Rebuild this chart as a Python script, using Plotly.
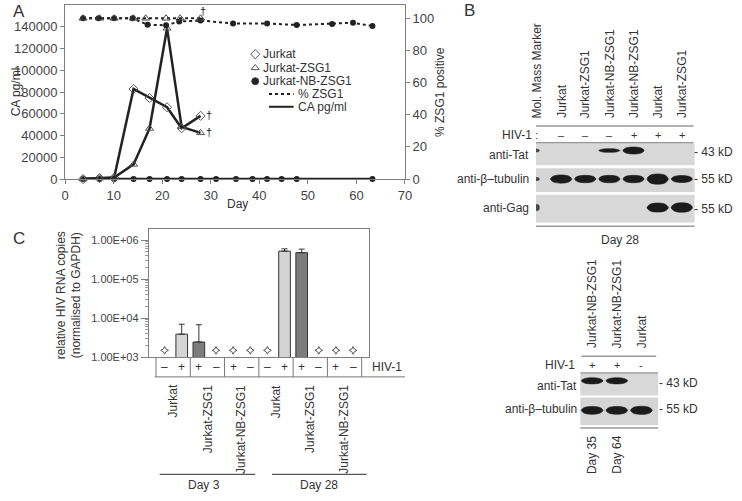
import plotly.graph_objects as go

W, H = 742, 501
FONT = "Liberation Sans, Arial, Helvetica, sans-serif"
INK = "#333333"
AXIS = "#808080"

# ---------------- Panel A data ----------------
days_ca = [3.7, 7.1, 10.1, 14.1, 17.4, 21.0, 24.0, 27.9]
ca_jurkat = [0, 900, 1200, 82800, 74400, 66000, 46700, 58100]
ca_jurkat_zsg1 = [0, 900, 1500, 13500, 46500, 138500, 48000, 42500]
days_ca_nb = [3.7, 7.1, 10.1, 14.1, 17.4, 21.0, 24.0, 27.9, 31.1, 35.2, 38.6, 41.6, 44.6, 47.7, 63.3]
ca_jurkat_nb = [0, 0, 0, 0, 0, 0, 0, 0, 0, 0, 0, 0, 0, 0, 0]
days_pct_zsg1 = [3.7, 7.1, 10.1, 14.1, 16.6, 20.8, 23.7, 27.9]
pct_jurkat_zsg1 = [100, 100, 100, 100, 100, 100, 100, 100]
days_pct_nb = [3.7, 6.9, 10.1, 13.9, 17.0, 20.8, 23.5, 27.9, 34.6, 41.6, 47.7, 55.0, 59.3, 63.3]
pct_jurkat_nb = [100, 100, 100, 100, 96.0, 95.6, 98.0, 98.6, 96.8, 96.8, 95.8, 96.4, 97.2, 95.2]
day_ticks = [0, 10, 20, 30, 40, 50, 60, 70]
ca_ticks = [0, 20000, 40000, 60000, 80000, 100000, 120000, 140000]
pct_ticks = [0, 20, 40, 60, 80, 100]
legend_names = ["Jurkat", "Jurkat-ZSG1", "Jurkat-NB-ZSG1", "% ZSG1", "CA pg/ml"]

# ---------------- Panel B data (western blot, day 28) ----------------
lanes_b = ["Mol. Mass Marker", "Jurkat", "Jurkat-ZSG1", "Jurkat-NB-ZSG1",
           "Jurkat-NB-ZSG1", "Jurkat", "Jurkat-ZSG1"]
hiv_b = [":", "–", "–", "–", "+", "+", "+"]
rows_b = ["anti-Tat", "anti-β–tubulin", "anti-Gag"]
mass_b = ["43 kD", "55 kD", "55 kD"]
tat_b = [0.35, 0, 0, 0.4, 0.8, 0, 0]
tubulin_b = [0.4, 0.95, 0.85, 0.85, 0.85, 1.2, 0.8]
gag_b = [0.8, 0, 0, 0, 0, 1.05, 1.1]

# ---------------- Panel B lower blot ----------------
lanes_b2 = ["Jurkat-NB-ZSG1", "Jurkat-NB-ZSG1", "Jurkat"]
hiv_b2 = ["+", "+", "-"]
rows_b2 = ["anti-Tat", "anti-β–tubulin"]
mass_b2 = ["43 kD", "55 kD"]
tat_b2 = [0.7, 0.7, 0]
tubulin_b2 = [0.9, 0.9, 0.95]
days_b2 = ["Day 35", "Day 64", ""]

# ---------------- Panel C data ----------------
rna_lines = ["Jurkat", "Jurkat", "Jurkat-ZSG1", "Jurkat-ZSG1", "Jurkat-NB-ZSG1", "Jurkat-NB-ZSG1",
             "Jurkat", "Jurkat", "Jurkat-ZSG1", "Jurkat-ZSG1", "Jurkat-NB-ZSG1", "Jurkat-NB-ZSG1"]
rna_hiv = ["–", "+", "+", "–", "+", "–", "–", "+", "+", "–", "+", "–"]
rna_values = [None, 3900, 2450, None, None, None, None, 525000, 480000, None, None, None]
rna_err = [0, 3100, 4350, 0, 0, 0, 0, 75000, 110000, 0, 0, 0]
rna_nd_level = 1500
rna_ticks = [1e3, 1e4, 1e5, 1e6]
rna_ticktext = ["1.00E+03", "1.00E+04", "1.00E+05", "1.00E+06"]
rna_days = ["Day 3", "Day 28"]

BAR_COL = {"Jurkat": "#d4d4d4", "Jurkat-ZSG1": "#7c7c7c", "Jurkat-NB-ZSG1": "#444444"}


def px(x):
    return x / W


def py(y):
    return 1 - y / H


fig = go.Figure()
annotations = []
shapes = []


def txt(x, y, s, size=12, xa="center", ya="middle", angle=0, xref="paper", yref="paper",
        color=INK, xshift=0, yshift=0):
    annotations.append(dict(
        x=px(x) if xref == "paper" else x,
        y=py(y) if yref == "paper" else y,
        text=s, showarrow=False, xref=xref, yref=yref, xanchor=xa, yanchor=ya,
        textangle=angle, xshift=xshift, yshift=yshift, borderpad=0,
        font=dict(family=FONT, size=size, color=color)))


def hline(x0, x1, y, color="#9a9a9a", width=1.5):
    shapes.append(dict(type="line", xref="paper", yref="paper", x0=px(x0), x1=px(x1),
                       y0=py(y), y1=py(y), line=dict(color=color, width=width)))


def rect(x0, x1, y0, y1, fill):
    shapes.append(dict(type="rect", xref="paper", yref="paper", layer="below",
                       x0=px(x0), x1=px(x1), y0=py(y1), y1=py(y0),
                       fillcolor=fill, line=dict(width=0)))


def band(lane, row, v, xa, ya, half_len, row_px, color="#1b1b1b"):
    """Lens-shaped blot band; thickness scales with intensity v."""
    h = 3.5 * v / row_px
    a = half_len
    xs = [lane - a, lane - 0.65 * a, lane + 0.65 * a, lane + a, lane + 0.65 * a, lane - 0.65 * a, lane - a]
    ys = [row, row - h, row - h, row, row + h, row + h, row]
    fig.add_trace(go.Scatter(x=xs, y=ys, xaxis=xa, yaxis=ya, mode="lines", fill="toself",
                             fillcolor=color, line=dict(color=color, width=0.6, shape="spline"),
                             showlegend=False, hoverinfo="skip"))


# ================= Panel A =================
fig.add_trace(go.Scatter(x=days_pct_nb, y=pct_jurkat_nb, xaxis="x", yaxis="y2", mode="lines+markers",
                         line=dict(color="#222", width=2, dash="dot"),
                         marker=dict(symbol="circle", size=6, color="#222"), showlegend=False))
fig.add_trace(go.Scatter(x=days_pct_zsg1, y=pct_jurkat_zsg1, xaxis="x", yaxis="y2", mode="lines+markers",
                         line=dict(color="#222", width=2, dash="dot"),
                         marker=dict(symbol="triangle-up-open", size=7, color="#444", line=dict(width=1)),
                         showlegend=False))
fig.add_trace(go.Scatter(x=days_ca_nb, y=ca_jurkat_nb, xaxis="x", yaxis="y", mode="lines+markers",
                         line=dict(color="#222", width=2.5),
                         marker=dict(symbol="circle", size=6, color="#222"), showlegend=False, cliponaxis=False))
fig.add_trace(go.Scatter(x=days_ca, y=ca_jurkat, xaxis="x", yaxis="y", mode="lines+markers",
                         line=dict(color="#222", width=2.5),
                         marker=dict(symbol="diamond-open", size=7, color="#555", line=dict(width=1)),
                         showlegend=False, cliponaxis=False))
fig.add_trace(go.Scatter(x=days_ca, y=ca_jurkat_zsg1, xaxis="x", yaxis="y", mode="lines+markers",
                         line=dict(color="#222", width=2.5),
                         marker=dict(symbol="triangle-up-open", size=7, color="#555", line=dict(width=1)),
                         showlegend=False, cliponaxis=False))

# daggers on the last sampled points
for xs, ys, yref in [(days_pct_zsg1, pct_jurkat_zsg1, "y2"), (days_ca, ca_jurkat, "y"),
                     (days_ca, ca_jurkat_zsg1, "y")]:
    dx, dy = (2, 7) if yref == "y2" else (8, 1)
    txt(xs[-1], ys[-1], "†", size=11, xref="x", yref=yref, xshift=dx, yshift=dy, color="#222")

# manual legend (glyphs on a pixel canvas axis)
leg_rows = [55, 69, 82.5, 95.5, 108.5]
leg_syms = [("diamond-open", 7, "#555"), ("triangle-up-open", 7, "#555"), ("circle", 7, "#222")]
for i, (sym, sz, col) in enumerate(leg_syms):
    fig.add_trace(go.Scatter(x=[255], y=[leg_rows[i]], xaxis="x9", yaxis="y9", mode="markers",
                             marker=dict(symbol=sym, size=sz, color=col, line=dict(width=1)),
                             showlegend=False, hoverinfo="skip"))
    txt(262, leg_rows[i], legend_names[i], size=12, xa="left")
for j, dash in enumerate(["dot", "solid"]):
    r = leg_rows[3 + j]
    fig.add_trace(go.Scatter(x=[269, 294], y=[r, r], xaxis="x9", yaxis="y9", mode="lines",
                             line=dict(color="#222", width=2, dash=dash), showlegend=False, hoverinfo="skip"))
    txt(297, r, legend_names[3 + j], size=12, xa="left")

txt(8, 12, "A", size=17, xa="left")
txt(12, 93, "CA pg/ml", size=12, angle=-90)
txt(442, 93, "% ZSG1 positive", size=12, angle=-90)
txt(237, 207, "Day", size=12)

# ================= Panel B (upper blot) =================
rect(540, 701, 146, 168, "#d8d8d8")
rect(540, 701, 171, 195, "#d5d5d5")
rect(540, 701, 198, 226, "#d8d8d8")
hline(540, 700, 128)
hline(540, 700, 145)
hline(540, 701, 230)

for r, vals in enumerate([tat_b, tubulin_b, gag_b]):
    for lane, v in enumerate(vals):
        if v > 0:
            band(lane, r, v, "x4", "y4", 0.1 if lane == 0 else 0.44, 29,
                 color="#4a4a4a" if lane == 0 else "#1b1b1b")

for lane, (name, sign) in enumerate(zip(lanes_b, hiv_b)):
    txt(lane, 121, name, size=12, angle=-90, ya="bottom", xref="x4")
    txt(lane, 137, sign, size=11, xref="x4")
txt(537, 137, "HIV-1", size=12, xa="right")
for r, row in enumerate(rows_b):
    txt(534, [158, 182, 211][r], row, size=12, xa="right")
    txt(699, [154, 182, 212][r], "- " + mass_b[r], size=12, xa="left")
txt(625, 244, "Day 28", size=12)
txt(472, 11, "B", size=17)

# ================= Panel B (lower blot) =================
rect(585, 664, 380, 402, "#d8d8d8")
rect(585, 664, 404, 432, "#d5d5d5")
hline(586, 662, 362)
hline(585, 664, 379)
hline(585, 664, 435)
for r, vals in enumerate([tat_b2, tubulin_b2]):
    for lane, v in enumerate(vals):
        if v > 0:
            band(lane, r, v, "x6", "y6", 0.44, 30)
for lane, (name, sign, d) in enumerate(zip(lanes_b2, hiv_b2, days_b2)):
    txt(lane, 355, name, size=12, angle=-90, ya="bottom", xref="x6")
    txt(lane, 371, sign, size=11, xref="x6")
    if d:
        txt(lane, 442, d, size=12, angle=-90, ya="top", xref="x6")
txt(581, 371, "HIV-1", size=12, xa="right")
for r, row in enumerate(rows_b2):
    txt(583, [392, 416][r], row, size=12, xa="right")
    txt(664, [389, 416][r], "- " + mass_b2[r], size=12, xa="left")

# ================= Panel C =================
idx = list(range(len(rna_values)))
fig.add_trace(go.Bar(x=idx, y=rna_values, xaxis="x3", yaxis="y3", width=0.68,
                     marker=dict(color=[BAR_COL[c] for c in rna_lines], line=dict(color="#333", width=1)),
                     error_y=dict(type="data", symmetric=False, array=rna_err, arrayminus=[0] * len(rna_err),
                                  color="#333", thickness=1, width=3),
                     showlegend=False))
nd_x = [i for i, v in enumerate(rna_values) if v is None]
fig.add_trace(go.Scatter(x=nd_x, y=[rna_nd_level] * len(nd_x), xaxis="x3", yaxis="y3", mode="markers",
                         marker=dict(symbol="star-diamond-open", size=5.5, color="#555", line=dict(width=1)),
                         showlegend=False))

for i, s in enumerate(rna_hiv):
    txt(i, 373, s, size=12, xref="x3")
for k in range(len(rna_lines) // 2 + 1):
    shapes.append(dict(type="line", xref="x3", yref="paper", x0=2 * k - 0.5, x1=2 * k - 0.5,
                       y0=py(363), y1=py(383), line=dict(color="#777", width=1)))
for k in range(len(rna_lines) // 2):
    txt(2 * k + 0.5, 390, rna_lines[2 * k], size=12, angle=-90, ya="top", xref="x3")
hline(153, 407, 383, color="#777", width=1)
txt(405, 373, "HIV-1", size=12, xa="right")
hline(158, 255, 482, color="#555", width=1.2)
hline(272, 368, 482, color="#555", width=1.2)
txt(203, 493, rna_days[0], size=12)
txt(320, 493, rna_days[1], size=12)
txt(8, 242, "C", size=17, xa="left")
txt(66, 300, "relative HIV RNA copies<br>(normalised to GAPDH)", size=12, angle=-90)

# ================= Layout =================
tick_font = dict(family=FONT, size=13, color="#444")
fig.update_layout(
    width=W, height=H, margin=dict(l=0, r=0, t=0, b=0), autosize=False,
    paper_bgcolor="white", plot_bgcolor="rgba(0,0,0,0)", showlegend=False,
    font=dict(family=FONT, color=INK),
    xaxis=dict(domain=[px(62), px(407)], range=[0, 70], anchor="y", tickvals=day_ticks,
               ticks="outside", ticklen=4, tickcolor=AXIS, showline=True, linecolor=AXIS, mirror=True,
               showgrid=False, zeroline=False, tickfont=tick_font),
    yaxis=dict(domain=[py(182), py(5)], range=[0, 160000], anchor="x", tickvals=ca_ticks,
               tickformat="d", ticks="outside", ticklen=4, tickcolor=AXIS, showline=True, linecolor=AXIS,
               showgrid=False, zeroline=False, tickfont=tick_font),
    yaxis2=dict(overlaying="y", side="right", anchor="x", range=[0, 108.3], tickvals=pct_ticks,
                ticks="outside", ticklen=4, tickcolor=AXIS, showline=True, linecolor=AXIS,
                showgrid=False, zeroline=False, tickfont=tick_font),
    xaxis3=dict(domain=[px(147), px(370)], range=[-0.92, 11.9], anchor="y3", showticklabels=False,
                ticks="", showline=True, mirror=True, linecolor=AXIS, showgrid=False, zeroline=False),
    yaxis3=dict(domain=[py(363), py(233)], type="log", range=[3, 6.28], anchor="x3",
                tickvals=rna_ticks, ticktext=rna_ticktext, ticks="outside", ticklen=7, tickcolor=AXIS,
                minor=dict(ticks="outside", ticklen=3, tickcolor="#999", dtick="D1"),
                showline=True, mirror=True, linecolor=AXIS, showgrid=False, zeroline=False,
                tickfont=dict(family=FONT, size=11, color="#444")),
    xaxis4=dict(domain=[px(540), px(701)], range=[-0.04, 6.53], anchor="y4", visible=False),
    yaxis4=dict(domain=[py(226), py(146)], range=[2.52, -0.24], anchor="x4", visible=False),
    xaxis6=dict(domain=[px(585), px(664)], range=[-0.48, 2.68], anchor="y6", visible=False),
    yaxis6=dict(domain=[py(432), py(380)], range=[1.5, -0.233], anchor="x6", visible=False),
    xaxis9=dict(domain=[0, 1], range=[0, W], anchor="y9", visible=False),
    yaxis9=dict(domain=[0, 1], range=[H, 0], anchor="x9", visible=False),
    annotations=annotations, shapes=shapes,
)

fig.write_html("out.html", config={"displayModeBar": False},
               post_script="document.body.style.margin='0px';")
